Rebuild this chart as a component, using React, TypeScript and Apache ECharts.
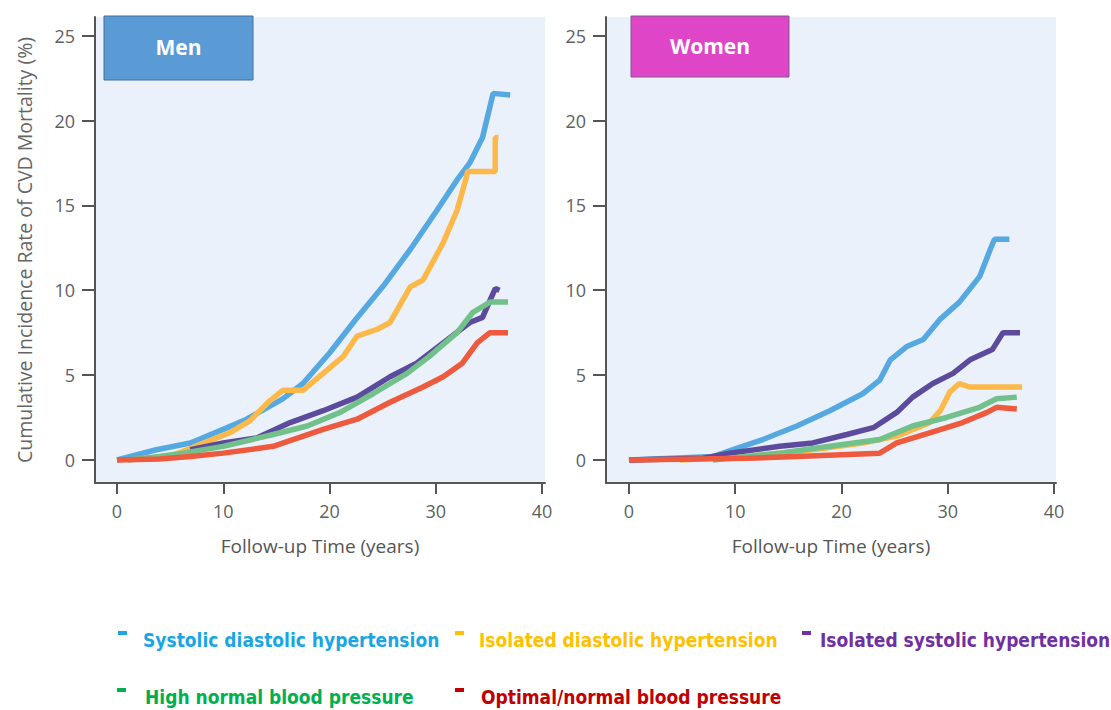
import React, { useEffect, useRef } from "react";
import * as echarts from "echarts";

const seriesNames = [
  "Systolic diastolic hypertension",
  "Isolated diastolic hypertension",
  "Isolated systolic hypertension",
  "High normal blood pressure",
  "Optimal/normal blood pressure",
];
const lineColors = ["#55a8e0", "#fcb94a", "#5c4a9c", "#72c08a", "#ee5a3e"];
const legendTextColors = ["#1aa6e2", "#ffc000", "#7030a0", "#00b050", "#c00000"];

const xTicks = [0, 10, 20, 30, 40];
const yTicks = [0, 5, 10, 15, 20, 25];

// Men panel: [follow-up years, cumulative %]
const menSDH = [[0, 0], [3.7, 0.6], [6.9, 1.0], [10, 1.8], [12.2, 2.4], [15.6, 3.6], [17.5, 4.5], [20, 6.3], [22.5, 8.3], [25, 10.2], [27.6, 12.4], [30.1, 14.7], [32, 16.5], [33.2, 17.5], [34.4, 19.0], [35.4, 21.6], [37, 21.5]];
const menIDH = [[2, 0.05], [5, 0.2], [7.8, 0.9], [10.6, 1.6], [12.5, 2.3], [14.4, 3.5], [15.6, 4.1], [17.5, 4.1], [19.4, 5.1], [21.3, 6.1], [22.6, 7.3], [24.5, 7.7], [25.7, 8.1], [27.6, 10.2], [28.8, 10.6], [30.7, 12.8], [32, 14.7], [32.9, 16.7], [33, 17.0], [35.6, 17.0], [35.6, 19.0], [35.9, 19.0]];
const menISH = [[6.9, 0.6], [10, 1.0], [13.2, 1.3], [16.3, 2.2], [19.4, 2.9], [22.6, 3.7], [25.7, 4.9], [28.2, 5.7], [30.7, 6.9], [33.2, 8.1], [34.4, 8.4], [35.1, 9.4], [35.6, 10.1], [36, 10.0]];
const menHN = [[1, 0], [4, 0.2], [6.2, 0.4], [10, 0.8], [14.7, 1.5], [17.9, 2.0], [21, 2.8], [24.1, 3.9], [27.3, 5.1], [29.4, 6.1], [32, 7.5], [33.5, 8.7], [35.1, 9.3], [36.8, 9.3]];
const menOpt = [[0, 0], [4, 0.05], [6.9, 0.2], [10, 0.4], [14.7, 0.8], [19.4, 1.8], [22.6, 2.4], [25.7, 3.4], [28.8, 4.3], [30.7, 4.9], [32.5, 5.7], [33.9, 6.9], [35.1, 7.5], [36.8, 7.5]];

// Women panel
const womSDH = [[0, 0], [7.9, 0.2], [10.2, 0.7], [12.6, 1.2], [15.8, 2.0], [18.9, 2.9], [22, 3.9], [23.6, 4.7], [24.6, 5.9], [26.2, 6.7], [27.7, 7.1], [29.3, 8.3], [31.1, 9.3], [33, 10.8], [34, 12.4], [34.4, 13.0], [35.8, 13.0]];
const womIDH = [[4.8, 0], [11.1, 0.2], [17.3, 0.6], [22, 1.0], [25.2, 1.4], [28.3, 2.2], [29.3, 2.9], [30.2, 4.0], [31.1, 4.5], [32, 4.3], [37, 4.3]];
const womISH = [[0, 0], [7, 0.1], [9.5, 0.4], [14.2, 0.8], [17.3, 1.0], [20.5, 1.5], [23, 1.9], [25.2, 2.8], [26.7, 3.7], [28.6, 4.5], [30.5, 5.1], [32.1, 5.9], [34.2, 6.5], [35.2, 7.5], [36.8, 7.5]];
const womHN = [[7.9, 0], [14.2, 0.4], [18.9, 0.8], [23.6, 1.2], [26.7, 2.0], [29.9, 2.5], [33, 3.1], [34.6, 3.6], [36.5, 3.7]];
const womOpt = [[0, 0], [11.1, 0.1], [15.8, 0.2], [23.6, 0.4], [25.2, 1.0], [28.3, 1.6], [31.4, 2.2], [33.7, 2.8], [34.6, 3.1], [36.5, 3.0]];

const menData = [menSDH, menIDH, menISH, menHN, menOpt];
const womenData = [womSDH, womIDH, womISH, womHN, womOpt];

const panelLabels = ["Men", "Women"];
const xName = "Follow-up Time (years)";
const yName = "Cumulative Incidence Rate of CVD Mortality (%)";

const FONT = "'Open Sans', 'DejaVu Sans', sans-serif";
const LEGEND_FONT = "'Liberation Sans Narrow', 'DejaVu Sans Condensed', sans-serif";

function makeXAxis(gridIndex: number, min: number, max: number) {
  return {
    type: "value",
    gridIndex,
    min,
    max,
    name: xName,
    nameLocation: "middle",
    nameGap: 53,
    nameTextStyle: { fontFamily: FONT, fontSize: 19, color: "#555" },
    axisLine: { show: true, onZero: false, lineStyle: { color: "#555", width: 2 } },
    axisTick: { show: true, length: 11, customValues: xTicks, lineStyle: { color: "#555", width: 2 } },
    axisLabel: { customValues: xTicks, margin: 19, fontFamily: FONT, fontSize: 18, color: "#606060" },
    splitLine: { show: false },
  };
}

function makeYAxis(gridIndex: number, withName: boolean) {
  return {
    type: "value",
    gridIndex,
    min: -1.36,
    max: 26.1,
    name: withName ? yName : "",
    nameLocation: "middle",
    nameGap: 61,
    nameTextStyle: { fontFamily: FONT, fontSize: 19.5, color: "#666" },
    axisLine: { show: true, onZero: false, lineStyle: { color: "#555", width: 2 } },
    axisTick: { show: true, length: 13, customValues: yTicks, lineStyle: { color: "#555", width: 2 } },
    axisLabel: { customValues: yTicks, margin: 20, fontFamily: FONT, fontSize: 18, color: "#606060" },
    splitLine: { show: false },
  };
}

export default function App() {
  const ref = useRef<HTMLDivElement>(null);

  useEffect(() => {
    if (!ref.current) return;
    const chart = echarts.init(ref.current, undefined, { renderer: "svg" });

    const series: any[] = [];
    [menData, womenData].forEach((panel, p) => {
      panel.forEach((data, i) => {
        series.push({
          type: "line",
          name: seriesNames[i],
          xAxisIndex: p,
          yAxisIndex: p,
          data,
          showSymbol: false,
          symbol: "none",
          clip: false,
          lineStyle: { color: lineColors[i], width: 5.5 },
          itemStyle: { color: lineColors[i] },
          z: 2 + i,
        });
      });
    });

    const legendPos = [
      { mx: 118, tx: 143, y: 640 },
      { mx: 455, tx: 479, y: 640 },
      { mx: 802, tx: 820, y: 640 },
      { mx: 117, tx: 145, y: 697 },
      { mx: 455, tx: 481, y: 697 },
    ];
    const legendGraphics: any[] = [];
    seriesNames.forEach((n, i) => {
      const lp = legendPos[i];
      legendGraphics.push({
        type: "rect",
        shape: { x: lp.mx, y: lp.y - 9, width: 9, height: 4 },
        style: { fill: legendTextColors[i] },
      });
      legendGraphics.push({
        type: "text",
        x: lp.tx,
        y: lp.y,
        style: {
          text: n,
          fill: legendTextColors[i],
          font: `bold 19px ${LEGEND_FONT}`,
          verticalAlign: "middle",
          align: "left",
        },
      });
    });

    const boxes = [
      { x: 104, y: 16, w: 149, h: 64, fill: "#5b9bd5", stroke: "#41719c" },
      { x: 631, y: 16, w: 158, h: 61, fill: "#df45c7", stroke: "#7b5a8f" },
    ];
    const boxGraphics: any[] = [];
    boxes.forEach((b, i) => {
      boxGraphics.push({
        type: "rect",
        z: 100,
        shape: { x: b.x, y: b.y, width: b.w, height: b.h },
        style: { fill: b.fill, stroke: b.stroke, lineWidth: 1 },
      });
      boxGraphics.push({
        type: "text",
        z: 101,
        x: b.x + b.w / 2,
        y: b.y + b.h / 2 - 1,
        style: {
          text: panelLabels[i],
          fill: "#fff",
          font: `bold 21px ${FONT}`,
          align: "center",
          verticalAlign: "middle",
        },
      });
    });

    chart.setOption({
      animation: false,
      backgroundColor: "#fff",
      grid: [
        { left: 95, top: 17, width: 450, height: 466, show: true, backgroundColor: "#eaf1fa", borderWidth: 0 },
        { left: 606, top: 17, width: 450, height: 466, show: true, backgroundColor: "#eaf1fa", borderWidth: 0 },
      ],
      xAxis: [makeXAxis(0, -2.07, 40.28), makeXAxis(1, -2.16, 40.19)],
      yAxis: [makeYAxis(0, true), makeYAxis(1, false)],
      series,
      graphic: [...boxGraphics, ...legendGraphics],
    });

    return () => chart.dispose();
  }, []);

  return (
    <div
      ref={ref}
      style={{ position: "absolute", left: 0, top: 0, width: 1111, height: 710 }}
    />
  );
}
